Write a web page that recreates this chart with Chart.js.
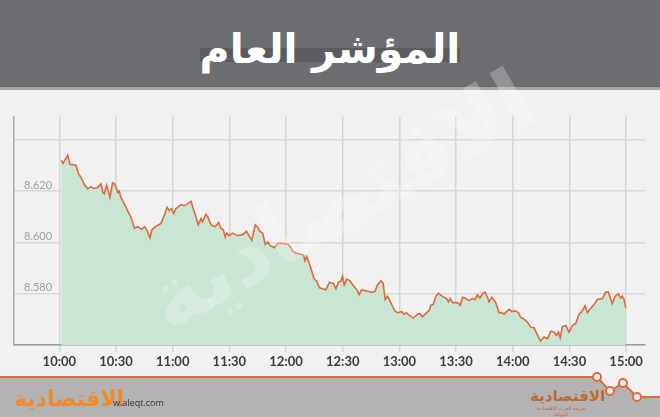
<!DOCTYPE html>
<html>
<head>
<meta charset="utf-8">
<script src="https://cdn.jsdelivr.net/npm/chart.js@4.4.1/dist/chart.umd.min.js"></script>
<style>
  html, body { margin: 0; padding: 0; }
  body { width: 660px; height: 417px; background: #f1f1f1; position: relative; overflow: hidden; font-family: Lato, sans-serif; }
  #header { position: absolute; left: 0; top: 0; width: 660px; height: 87px; background: #6d6e72; border-bottom: 3px solid #a4a4a7; }
  #titleBar { position: absolute; left: 200px; top: 48px; width: 260px; height: 14px; background: #5b5c60; }
  #title { position: absolute; left: 0; width: 660px; top: 21px; text-align: center; color: #fff; font: bold 41px "DejaVu Sans", sans-serif; line-height: 56px; }
  #chartWrap { position: absolute; left: 0; top: 100px; width: 660px; height: 270px; }
  #watermark { position: absolute; left: 120px; top: 150px; width: 440px; text-align: center; transform: rotate(-30deg); color: rgba(255,255,255,0.25); font: bold 86px "DejaVu Sans", sans-serif; pointer-events: none; }
  #footer { position: absolute; left: 0; top: 360px; }
  #logoL { position: absolute; left: 14px; top: 386px; color: #f08a2a; font: bold 22px "DejaVu Sans", sans-serif; line-height: 26px; }
  #site { position: absolute; left: 113px; top: 396px; color: #333; font: 9px "Open Sans", sans-serif; }
  #logoR { position: absolute; left: 530px; top: 388px; width: 62px; text-align: center; color: #c3672e; font: bold 15px "DejaVu Sans", sans-serif; line-height: 17px; }
  #logoR small { display: block; font-size: 5px; line-height: 6px; font-weight: normal; }
</style>
</head>
<body>
<div id="header">
  <div id="titleBar"></div>
  <div id="title">المؤشر العام</div>
</div>
<div id="chartWrap"><canvas id="chart" width="660" height="270"></canvas></div>
<div id="watermark">الاقتصادية</div>
<svg id="footer" width="660" height="57">
  <polygon points="0,17 597,17 610,31 623,23 637,37 660,37 660,57 0,57" fill="#b3b3b3"/>
  <polyline points="0,17 597,17 610,31 623,23 637,37 660,37" fill="none" stroke="#e0693b" stroke-width="2"/>
  <circle cx="597" cy="17" r="4" fill="#f1f1f1" stroke="#e0693b" stroke-width="2"/>
  <circle cx="610" cy="31" r="4" fill="#f1f1f1" stroke="#e0693b" stroke-width="2"/>
  <circle cx="623" cy="23" r="4" fill="#f1f1f1" stroke="#e0693b" stroke-width="2"/>
  <circle cx="637" cy="37" r="4" fill="#f1f1f1" stroke="#e0693b" stroke-width="2"/>
</svg>
<div id="logoL">الاقتصادية</div>
<div id="site">w.aleqt.com</div>
<div id="logoR">الاقتصادية<small>جريدة العرب الاقتصادية الدولية</small></div>

<script>
// minutes after 10:00
const minutes = [
  1, 2, 4.4, 5.6, 8.8, 10, 11.5, 13.2, 15, 16.8, 18, 20, 22, 23, 23.8, 25, 26.8, 28.2, 29.5, 30.9,
  31.7, 32.6, 34.4, 36.1, 37.9, 39.7, 41.4, 43.5, 45.3, 46.4, 48, 49, 51, 53.8, 55.6, 57, 58.2, 59.4, 60.5,
  61.7, 64.4, 66.1, 67.9, 69.7, 70.9, 72.3, 73.5, 75, 75.8, 77.6, 78.5, 80.3, 82.5, 84.3, 85.5, 86.8, 87.8,
  88.5, 89.9, 91.7, 94.3, 97, 99.1, 100.5, 101.9, 103.7, 104.9, 106.2, 107.6, 109, 110.3, 111.5, 113.8,
  115.6, 118.2, 121.2, 122.6, 123.4, 125.2, 127.9, 129.3, 130, 130.9, 131.7, 133.2, 134.9, 136.2, 137.6,
  139.3, 141.1, 142.9, 145.1, 146.4, 147.8, 149.1, 149.9, 150.8, 152.2, 153.8, 155.7, 157.5, 158.7, 160,
  162.3, 165.3, 167.1, 168.4, 170.2, 171.4, 172.5, 173.7, 175.1, 176.3, 177.6, 179, 181.3, 182.5, 183.7,
  185.5, 187.3, 189.6, 190.8, 192.2, 194, 195.8, 196.7, 197.9, 199.3, 200.7, 202, 203.7, 205, 206, 206.9,
  208.1, 210.3, 211.6, 212.2, 213.4, 215.2, 217, 218.7, 220.1, 221.3, 222.6, 224, 225.4, 226.6, 227.5,
  228.9, 231, 232.8, 234.2, 235.4, 236.7, 238.1, 239.5, 241.3, 243, 244.3, 246, 247.8, 249.6, 251.3,
  253.1, 254.8, 256.6, 258.4, 260.1, 261.9, 263.1, 264.2, 265.1, 266.3, 268.1, 269.8, 271.6, 273.4, 275.1,
  276.5, 278.3, 279.5, 281.3, 283, 284.8, 287.5, 289.2, 290.6, 292.7, 294.2, 295.9, 297.2, 298, 298.9, 299.8
];
const indexValues = [
  8.6320, 8.6308, 8.6340, 8.6304, 8.6301, 8.6270, 8.6252, 8.6226, 8.6209, 8.6217, 8.6210, 8.6213, 8.6228, 8.6194, 8.6190, 8.6223, 8.6175, 8.6232, 8.6226, 8.6194,
  8.6200, 8.6175, 8.6150, 8.6124, 8.6099, 8.6055, 8.6061, 8.6051, 8.6061, 8.6046, 8.6017, 8.6049, 8.6061, 8.6074, 8.6105, 8.6137, 8.6124, 8.6131, 8.6112,
  8.6131, 8.6147, 8.6143, 8.6150, 8.6160, 8.6131, 8.6100, 8.6068, 8.6093, 8.6080, 8.6109, 8.6100, 8.6068, 8.6061, 8.6077, 8.6055, 8.6049, 8.6021,
  8.6036, 8.6026, 8.6036, 8.6026, 8.6030, 8.6043, 8.6024, 8.6008, 8.6068, 8.6059, 8.6043, 8.6036, 8.5992, 8.6001, 8.5988, 8.5979,
  8.5996, 8.5996, 8.5992, 8.5979, 8.5967, 8.5958, 8.5954, 8.5950, 8.5929, 8.5945, 8.5929, 8.5897, 8.5857, 8.5850, 8.5824,
  8.5819, 8.5815, 8.5844, 8.5840, 8.5819, 8.5846, 8.5849, 8.5868, 8.5834, 8.5857, 8.5850, 8.5831, 8.5815, 8.5796, 8.5815,
  8.5811, 8.5805, 8.5809, 8.5834, 8.5850, 8.5840, 8.5777, 8.5790, 8.5771, 8.5752, 8.5733, 8.5726, 8.5730, 8.5720, 8.5726,
  8.5714, 8.5705, 8.5720, 8.5723, 8.5710, 8.5723, 8.5735, 8.5755, 8.5758, 8.5790, 8.5802, 8.5793, 8.5786, 8.5781, 8.5768, 8.5781,
  8.5765, 8.5765, 8.5761, 8.5755, 8.5786, 8.5781, 8.5773, 8.5781, 8.5777, 8.5796, 8.5783, 8.5799, 8.5806, 8.5786, 8.5768,
  8.5786, 8.5765, 8.5726, 8.5726, 8.5720, 8.5730, 8.5739, 8.5730, 8.5733, 8.5726, 8.5707, 8.5701, 8.5689, 8.5669, 8.5667,
  8.5638, 8.5615, 8.5631, 8.5625, 8.5654, 8.5650, 8.5638, 8.5650, 8.5629, 8.5672, 8.5676, 8.5650, 8.5676, 8.5685, 8.5720,
  8.5730, 8.5752, 8.5726, 8.5743, 8.5758, 8.5777, 8.5781, 8.5806, 8.5806, 8.5761, 8.5790, 8.5799, 8.5783, 8.5790, 8.5777, 8.5745
];
const xTickLabels = ['10:00', '10:30', '11:00', '11:30', '12:00', '12:30', '13:00', '13:30', '14:00', '14:30', '15:00'];
const yTickValues = [8.56, 8.58, 8.60, 8.62, 8.64];
const yTickLabels = ['', '8.580', '8.600', '8.620', ''];

// "HH:MM" -> minutes after 10:00
function toMinutes(label) {
  const [h, m] = label.split(':').map(Number);
  return (h - 10) * 60 + m;
}
const xTickValues = xTickLabels.map(toMinutes);

const points = minutes.map((m, i) => ({ x: m, y: indexValues[i] }));

new Chart(document.getElementById('chart'), {
  type: 'line',
  data: {
    datasets: [{
      data: points,
      borderColor: '#e0693b',
      borderWidth: 1.6,
      backgroundColor: '#c9e5d3',
      fill: 'start',
      pointRadius: 0,
      tension: 0
    }]
  },
  options: {
    responsive: false,
    animation: false,
    layout: { padding: { left: 14, right: 15, top: 10, bottom: 0 } },
    plugins: { legend: { display: false }, tooltip: { enabled: false } },
    scales: {
      x: {
        type: 'linear',
        min: -24,
        max: 310,
        afterBuildTicks: (scale) => { scale.ticks = xTickValues.map(v => ({ value: v })); },
        afterFit: (scale) => { scale.height = 25; },
        ticks: {
          padding: 2,
          color: '#3d3d3d',
          font: { family: 'Lato', size: 13, weight: 'bold' },
          maxRotation: 0,
          callback: (v) => xTickLabels[xTickValues.indexOf(v)]
        },
        grid: { color: '#d5d5d5', lineWidth: 1.5, tickLength: 7 },
        border: { color: '#9c9c9c', width: 1.5 }
      },
      y: {
        min: 8.56,
        max: 8.649,
        afterBuildTicks: (scale) => { scale.ticks = yTickValues.map(v => ({ value: v })); },
        afterFit: (scale) => { scale.width = 0; },
        ticks: {
          mirror: true,
          padding: 10,
          labelOffset: -6,
          color: '#9e9e9e',
          font: { family: 'Lato', size: 11 },
          callback: (v) => yTickLabels[yTickValues.findIndex(t => Math.abs(t - v) < 1e-6)]
        },
        grid: { color: '#d8d8d8', lineWidth: 1.5, drawTicks: false },
        border: { color: '#a8a8a8', width: 1.5 }
      }
    }
  }
});
</script>
</body>
</html>
